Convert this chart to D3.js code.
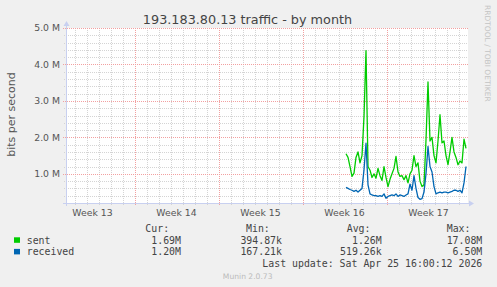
<!DOCTYPE html>
<meta charset="utf-8">
<head>
	<title>Traffic by month</title>
</head>

<style>
	body { margin: 0; background: #f0f0f0; }
	svg { display: block; }
	.ax { font-family: "DejaVu Sans", sans-serif; fill: #555; }
	.mono { font-family: "DejaVu Sans Mono", monospace; font-size: 9.9px; fill: #444; }
</style>

<body>
	<svg width="497" height="287"></svg>

	<script src="https://d3js.org/d3.v7.min.js"></script>
	<script>
// time window of the graph
var viewStart = Date.UTC(2026, 2, 23, 7), viewEnd = Date.UTC(2026, 3, 25, 19);
// samples: first at Apr 15 15:00, then every 4 hours
var firstSample = Date.UTC(2026, 3, 15, 15), sampleHours = 4;

var sent = [1.55, 1.45, 1.2, 0.93, 1.02, 1.45, 1.6, 1.3, 1.5, 2.57,
	4.38, 1.2, 1.1, 0.9, 1.0, 0.88, 1.15, 0.95, 0.82, 1.2,
	0.9, 0.65, 0.85, 1.0, 1.15, 1.48, 1.05, 0.93, 0.95, 0.84,
	0.95, 0.75, 1.0, 1.1, 1.5, 1.2, 1.3, 0.8, 0.65, 0.7,
	1.93, 3.52, 1.9, 2.0, 1.5, 1.3, 1.9, 2.62, 1.85, 1.9,
	1.5, 1.25, 1.6, 2.0, 1.6, 1.45, 1.25, 1.35, 1.3, 1.95, 1.7];
var received = [0.63, 0.6, 0.57, 0.55, 0.52, 0.55, 0.5, 0.55, 0.6, 1.11,
	1.84, 0.7, 0.45, 0.42, 0.4, 0.4, 0.38, 0.4, 0.38, 0.45,
	0.33, 0.38, 0.4, 0.42, 0.4, 0.45, 0.38, 0.42, 0.4, 0.38,
	0.42, 0.45, 0.72, 0.55, 0.95, 0.6, 0.35, 0.3, 0.32, 0.5,
	1.0, 1.75, 1.2, 1.05, 0.65, 0.45, 0.48, 0.5, 0.48, 0.5,
	0.5, 0.48, 0.5, 0.52, 0.55, 0.55, 0.52, 0.55, 0.48, 0.75, 1.2];

var weekLabels = ["Week 13", "Week 14", "Week 15", "Week 16", "Week 17"];
var yTicks = [1e6, 2e6, 3e6, 4e6, 5e6];
var yTickLabels = ["1.0 M", "2.0 M", "3.0 M", "4.0 M", "5.0 M"];

var series = [
	{name: "sent", color: "#00cc00", values: sent, cur: "1.69M", min: "394.87k", avg: "1.26M", max: "17.08M"},
	{name: "received", color: "#0066b3", values: received, cur: "1.20M", min: "167.21k", avg: "519.26k", max: "6.50M"}
];

var svg = d3.select("svg");
var pL = 66, pR = 468, pT = 28, pB = 203;

var x = d3.scaleUtc().domain([viewStart, viewEnd]).range([pL, pR]);
var y = d3.scaleLinear().domain([0.2e6, 5e6]).range([pB, pT]);

// canvas
svg.append("rect").attr("x", pL).attr("y", pT)
	.attr("width", pR - pL).attr("height", pB - pT).attr("fill", "#fff");

// minor grid
var days = d3.utcDay.range(new Date(viewStart), new Date(viewEnd));
var weeks = d3.utcSunday.range(new Date(viewStart), new Date(viewEnd));
var minorY = d3.range(0.4e6, 5e6, 0.2e6).filter(function(v) {return Math.abs(v / 1e6 - Math.round(v / 1e6)) > 0.01;});

var g = svg.append("g").attr("shape-rendering", "crispEdges");
g.selectAll(".vmin").data(days.filter(function(d) {return d.getUTCDay() != 0;}))
	.enter().append("line")
	.attr("x1", function(d) {return Math.round(x(d)) + 0.5;})
	.attr("x2", function(d) {return Math.round(x(d)) + 0.5;})
	.attr("y1", pT).attr("y2", pB + 2)
	.attr("stroke", "#d4d4d4").attr("stroke-dasharray", "1,1");
g.selectAll(".hmin").data(minorY)
	.enter().append("line")
	.attr("x1", pL - 2).attr("x2", pR)
	.attr("y1", function(d) {return Math.round(y(d)) + 0.5;})
	.attr("y2", function(d) {return Math.round(y(d)) + 0.5;})
	.attr("stroke", "#d4d4d4").attr("stroke-dasharray", "1,1");
// major grid
g.selectAll(".vmaj").data(weeks)
	.enter().append("line")
	.attr("x1", function(d) {return Math.round(x(d)) + 0.5;})
	.attr("x2", function(d) {return Math.round(x(d)) + 0.5;})
	.attr("y1", pT).attr("y2", pB + 3)
	.attr("stroke", "#f2a0a0").attr("stroke-dasharray", "1,1");
g.selectAll(".hmaj").data(yTicks)
	.enter().append("line")
	.attr("x1", pL - 3).attr("x2", pR)
	.attr("y1", function(d) {return Math.round(y(d)) + 0.5;})
	.attr("y2", function(d) {return Math.round(y(d)) + 0.5;})
	.attr("stroke", "#f2a0a0").attr("stroke-dasharray", "1,1");

// axes lines and arrows
g.append("line").attr("x1", pL + 0.5).attr("x2", pL + 0.5).attr("y1", pB + 3).attr("y2", pT - 4)
	.attr("stroke", "#c8d0f0");
g.append("line").attr("x1", pL - 3).attr("x2", pR + 2).attr("y1", pB + 0.5).attr("y2", pB + 0.5)
	.attr("stroke", "#c8d0f0");
svg.append("path").attr("d", "M" + (pL - 2.5) + "," + (pT - 2) + "L" + (pL + 0.5) + "," + (pT - 7) + "L" + (pL + 3.5) + "," + (pT - 2) + "Z")
	.attr("fill", "#c8d0f0");
svg.append("path").attr("d", "M" + (pR + 1) + "," + (pB - 2.5) + "L" + (pR + 6) + "," + (pB + 0.5) + "L" + (pR + 1) + "," + (pB + 3.5) + "Z")
	.attr("fill", "#c8d0f0");

// data lines
var line = d3.line()
	.x(function(d, i) {return x(firstSample + i * sampleHours * 3600e3);})
	.y(function(d) {return y(d * 1e6);});
series.forEach(function(s) {
	svg.append("path").datum(s.values)
		.attr("d", line)
		.attr("fill", "none")
		.attr("stroke", s.color)
		.attr("stroke-width", 1.3)
		.attr("stroke-linejoin", "round");
});

// y tick labels
svg.selectAll(".ylab").data(yTicks)
	.enter().append("text").attr("class", "ax")
	.attr("x", 60).attr("y", function(d) {return y(d) + 3.4;})
	.attr("text-anchor", "end").attr("font-size", "9.3px")
	.text(function(d, i) {return yTickLabels[i];});

// week labels, centred in each week
var weekStarts = [d3.utcSunday.offset(weeks[0], -1)].concat(weeks).slice(0, weekLabels.length);
svg.selectAll(".xlab").data(weekStarts)
	.enter().append("text").attr("class", "ax")
	.attr("x", function(d) {return x(+d + 3.5 * 864e5);})
	.attr("y", 216.3)
	.attr("text-anchor", "middle").attr("font-size", "9.3px")
	.text(function(d, i) {return weekLabels[i];});

// titles
svg.append("text").attr("class", "ax")
	.attr("x", 247.5).attr("y", 23.5).attr("text-anchor", "middle")
	.attr("font-size", "12.8px").style("fill", "#444")
	.text("193.183.80.13 traffic - by month");
svg.append("text").attr("class", "ax")
	.attr("transform", "translate(15,114.5) rotate(-90)").attr("text-anchor", "middle")
	.attr("font-size", "11px")
	.text("bits per second");
svg.append("text").attr("class", "ax")
	.attr("transform", "translate(484.5,5) rotate(90)").attr("text-anchor", "start")
	.attr("font-size", "7.5px").style("fill", "#c4c4c4")
	.text("RRDTOOL / TOBI OETIKER");

// legend
var headers = [["Cur:", 145.3], ["Min:", 246], ["Avg:", 346.7], ["Max:", 446.7]];
svg.selectAll(".hdr").data(headers)
	.enter().append("text").attr("class", "mono")
	.attr("x", function(d) {return d[1];}).attr("y", 232)
	.text(function(d) {return d[0];});

var colEnds = [181, 282, 381.7, 482.3];
series.forEach(function(s, i) {
	var yy = 243.5 + i * 11.6;
	svg.append("rect").attr("x", 14).attr("y", yy - 6.2).attr("width", 6).attr("height", 5.5).attr("fill", s.color);
	svg.append("text").attr("class", "mono").attr("x", 26.7).attr("y", yy).text(s.name);
	[s.cur, s.min, s.avg, s.max].forEach(function(v, j) {
		svg.append("text").attr("class", "mono").attr("x", colEnds[j]).attr("y", yy)
			.attr("text-anchor", "end").text(v);
	});
});
svg.append("text").attr("class", "mono").attr("x", 482.3).attr("y", 267)
	.attr("text-anchor", "end").text("Last update: Sat Apr 25 16:00:12 2026");
svg.append("text").attr("class", "ax")
	.attr("x", 247.7).attr("y", 278.7).attr("text-anchor", "middle")
	.attr("font-size", "7.6px").style("fill", "#bbb")
	.text("Munin 2.0.73");
	</script>
</body>
</html>
